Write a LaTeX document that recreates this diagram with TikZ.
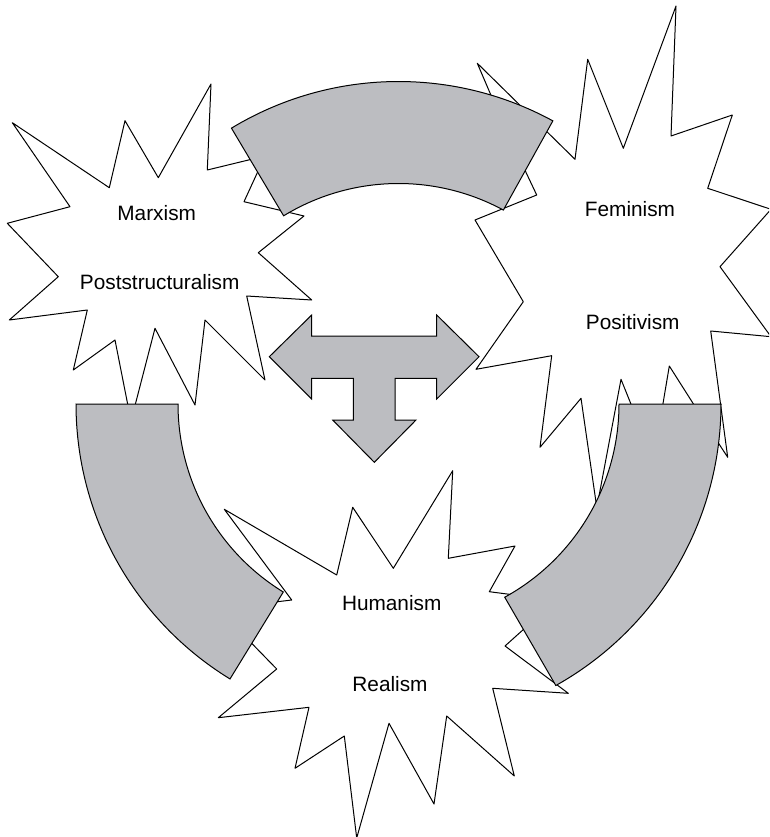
\documentclass[tikz,border=0pt]{standalone}
\usepackage{fontspec}
\setmainfont{Liberation Sans}
\definecolor{bandgray}{RGB}{188,189,193}
\begin{document}
\begin{tikzpicture}[x=1pt,y=-1pt,
  starshape/.style={draw=black, fill=white, line width=1pt, line join=round},
  band/.style={draw=black, fill=bandgray, line width=1pt, line join=miter},
  lbl/.style={font=\fontsize{20.8}{25}\selectfont, inner sep=0pt}]
\useasboundingbox (0,0) rectangle (769,837);
\clip (0,0) rectangle (769,837);
\def\cx{398.5}\def\cy{404}\def\Ro{322.5}\def\Ri{220.5}
% left star
\draw[starshape] (12.3,122.7) -- (109.3,187.7) -- (125,120.7) -- (158.3,177.7) -- (211,84) -- (207.3,170)
  -- (265,156) -- (244,201.7) -- (304,216) -- (258.3,252.7) -- (311.7,300) -- (246.7,296)
  -- (265,380) -- (205,320) -- (195,405) -- (155,328.3) -- (131,421) -- (115,340) -- (73.3,370)
  -- (87.3,310) -- (9.3,320) -- (58.3,276.7) -- (7.3,223.3) -- (70,206.7) -- cycle;
% right star
\draw[starshape] (676,6) -- (671,136) -- (732.3,115) -- (707.7,188.3) -- (771,209.3) -- (720,266.7)
  -- (771,336.7) -- (710.7,331) -- (727.7,457.3) -- (712.5,434) -- (669.3,366) -- (653.5,460.1)
  -- (621,379.3) -- (596.8,507.7) -- (581,398.3) -- (540,447.3) -- (551.7,355.7) -- (476,369.3)
  -- (523.3,301.7) -- (475,220) -- (536.7,195) -- (505,128) -- (477.3,63.3) -- (575,159.3)
  -- (587.7,59.3) -- (623.3,148.3) -- cycle;
% bottom star
\draw[starshape] (452.7,470.7) -- (448.3,558.3) -- (515,546) -- (489.3,591.7) -- (555.9,600.3)
  -- (505,646) -- (568.3,693.3) -- (492.7,688.3) -- (514.3,776) -- (446.7,716) -- (434,804)
  -- (389,723.3) -- (356.7,838) -- (344.3,736) -- (295,768.3) -- (309,707.3) -- (218.3,717.7)
  -- (276.7,669) -- (218.2,608.9) -- (291.7,600) -- (224.3,509.3) -- (336.7,575)
  -- (352.7,507.3) -- (393.3,568.3) -- cycle;
% bands
\draw[band] plot[domain=61.4:121.2, samples=60] ({\cx+\Ro*cos(\x)},{\cy-\Ro*sin(\x)})
  -- plot[domain=121.4:61.6, samples=60] ({\cx+\Ri*cos(\x)},{\cy-\Ri*sin(\x)}) -- cycle;
\draw[band] plot[domain=180:238.5, samples=60] ({\cx+\Ro*cos(\x)},{\cy-\Ro*sin(\x)})
  -- plot[domain=238.5:180, samples=60] ({\cx+\Ri*cos(\x)},{\cy-\Ri*sin(\x)}) -- cycle;
\draw[band] plot[domain=-60.8:0, samples=60] ({\cx+\Ro*cos(\x)},{\cy-\Ro*sin(\x)})
  -- plot[domain=0:-61.2, samples=60] ({\cx+\Ri*cos(\x)},{\cy-\Ri*sin(\x)}) -- cycle;
% T arrow
\draw[band] (269.3,356.7) -- (311.7,315) -- (311.7,336) -- (436.7,336) -- (436.7,315) -- (479,356.7)
  -- (436.7,399) -- (436.7,378.3) -- (395,378.3) -- (395,420) -- (416,420) -- (374.3,462.3)
  -- (332.7,420) -- (353.3,420) -- (353.3,378.3) -- (311.7,378.3) -- (311.7,399) -- cycle;
% labels
\node[lbl] (marx) at (156.7,213.3) {Marxism};
\node[lbl] (post) at (159.7,281.7) {Poststructuralism};
\node[lbl] (fem) at (630,209) {Feminism};
\node[lbl] (posi) at (632.7,321.7) {Positivism};
\node[lbl] (hum) at (391.7,602.7) {Humanism};
\node[lbl] (real) at (390,684.3) {Realism};
\end{tikzpicture}
\end{document}
